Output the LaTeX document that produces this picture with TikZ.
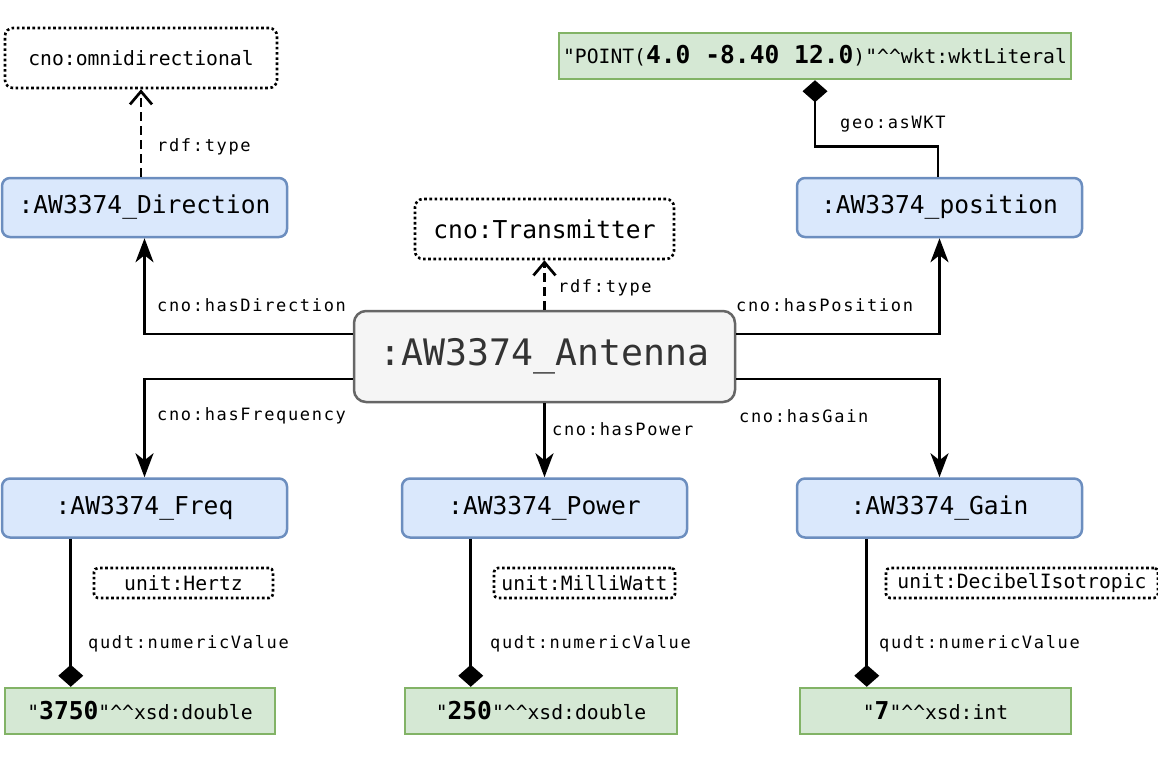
\documentclass[tikz,border=0pt]{standalone}
\usepackage{fontspec}
\setmonofont{DejaVu Sans Mono}
\newfontfamily\lblfont[LetterSpace=9.8]{DejaVu Sans Mono}
\usetikzlibrary{arrows.meta}
\definecolor{blueFill}{HTML}{DAE8FC}
\definecolor{blueLine}{HTML}{6C8EBF}
\definecolor{greenFill}{HTML}{D5E8D4}
\definecolor{greenLine}{HTML}{82B366}
\definecolor{grayFill}{HTML}{F5F5F5}
\definecolor{grayLine}{HTML}{666666}
\definecolor{grayText}{HTML}{333333}
\newcommand\dq{\textquotedbl}
\newcommand\carets{\textasciicircum\textasciicircum}
\newcommand\smallsz{\ttfamily\fontsize{19.7}{23}\selectfont}
\newcommand\midsz{\ttfamily\fontsize{24.6}{29}\selectfont}
\newcommand\bigsz{\ttfamily\fontsize{36.5}{43}\selectfont}
\newcommand\num[1]{\textbf{\midsz #1}}
\tikzset{
	inst/.style={draw=blueLine, fill=blueFill, line width=2.5pt, rounded corners=8pt, minimum width=285pt, minimum height=59pt, inner sep=0pt, font=\midsz},
	cls/.style={draw, line width=2.6pt, dash pattern=on 2.6pt off 2.6pt, rounded corners=8pt, inner sep=0pt},
	lit/.style={draw=greenLine, fill=greenFill, line width=2.5pt, minimum height=46pt, inner sep=0pt, font=\smallsz},
	lbl/.style={anchor=west, inner sep=0pt, font=\lblfont\fontsize{17}{20}\selectfont},
	rel/.style={line width=2.7pt, -{Stealth[length=24pt,width=18pt,inset=7pt]}},
	typ/.style={line width=2.7pt, dash pattern=on 9pt off 5pt, -{Straight Barb[length=13pt,width=22pt]}},
	val/.style={line width=2.7pt, -{Diamond[length=22pt,width=25pt]}}
}
\begin{document}
\begin{tikzpicture}[x=1pt,y=-1pt]
	\useasboundingbox (0,0) rectangle (1158,768);
	\node[cls, minimum width=272pt, minimum height=60pt, font=\smallsz] (omni) at (141,58) {cno:omnidirectional};
	\node[cls, minimum width=259pt, minimum height=60pt, font=\midsz] (trans) at (544.5,229) {cno:Transmitter};
	\node[lit, minimum width=512pt] (wkt) at (815,56) {\dq POINT(\num{4.0 -8.40 12.0})\dq\carets wkt:wktLiteral};
	\node[inst] (dir) at (144.5,207.5) {:AW3374\_Direction};
	\node[inst] (pos) at (939.5,207.5) {:AW3374\_position};
	\node[draw=grayLine, fill=grayFill, text=grayText, line width=2.5pt, rounded corners=12pt, minimum width=381pt, minimum height=91pt, inner sep=0pt, font=\bigsz] (ant) at (544.5,356.5) {:AW3374\_Antenna};
	\node[inst] (freq) at (144.5,508) {:AW3374\_Freq};
	\node[inst] (power) at (544.5,508) {:AW3374\_Power};
	\node[inst] (gain) at (939.5,508) {:AW3374\_Gain};
	\node[cls, rounded corners=4pt, minimum width=179pt, minimum height=30pt, font=\smallsz] (hertz) at (183.5,583) {unit:Hertz};
	\node[cls, rounded corners=4pt, minimum width=181pt, minimum height=30pt, font=\smallsz] (mwatt) at (584.5,583) {unit:MilliWatt};
	\node[cls, rounded corners=4pt, minimum width=272pt, minimum height=30pt, font=\smallsz] (dbi) at (1022,583) {unit:DecibelIsotropic};
	\node[lit, minimum width=270pt] (vfreq) at (140,711) {\dq\num{3750}\dq\carets xsd:double};
	\node[lit, minimum width=272pt] (vpower) at (541,711) {\dq\num{250}\dq\carets xsd:double};
	\node[lit, minimum width=271pt] (vgain) at (935.5,711) {\dq\num{7}\dq\carets xsd:int};
	\draw[typ] (omni.south |- dir.north) -- (omni.south);
	\draw[typ] (ant) -- (trans);
	\draw[rel] ([yshift=22.5pt]ant.west) -| (dir.south);
	\draw[rel] ([yshift=22.5pt]ant.east) -| (pos.south);
	\draw[rel] ([yshift=-22.5pt]ant.west) -| (freq.north);
	\draw[rel] ([yshift=-22.5pt]ant.east) -| (gain.north);
	\draw[rel] (ant) -- (power);
	\draw[val] ([xshift=-1.5pt]pos.north) -- ++(0,-30) -| (wkt.south);
	\draw[val] ([xshift=70pt]freq.south west) -- ([xshift=70pt]freq.south west |- vfreq.north);
	\draw[val] ([xshift=70pt]power.south west) -- ([xshift=70pt]power.south west |- vpower.north);
	\draw[val] ([xshift=71pt]gain.south west) -- ([xshift=71pt]gain.south west |- vgain.north);
	\node[lbl] (tdir) at (157,147) {rdf:type};
	\node[lbl] (tant) at (558,288) {rdf:type};
	\node[lbl] (ldir) at (157,305) {cno:hasDirection};
	\node[lbl] (lpos) at (736,305) {cno:hasPosition};
	\node[lbl] (lfreq) at (157,416) {cno:hasFrequency};
	\node[lbl] (lgain) at (739,416) {cno:hasGain};
	\node[lbl] (lpower) at (552,429) {cno:hasPower};
	\node[lbl] (lwkt) at (840,124) {geo:asWKT};
	\node[lbl] (nfreq) at (88,644) {qudt:numericValue};
	\node[lbl] (npower) at (490,644) {qudt:numericValue};
	\node[lbl] (ngain) at (879,644) {qudt:numericValue};
\end{tikzpicture}
\end{document}
